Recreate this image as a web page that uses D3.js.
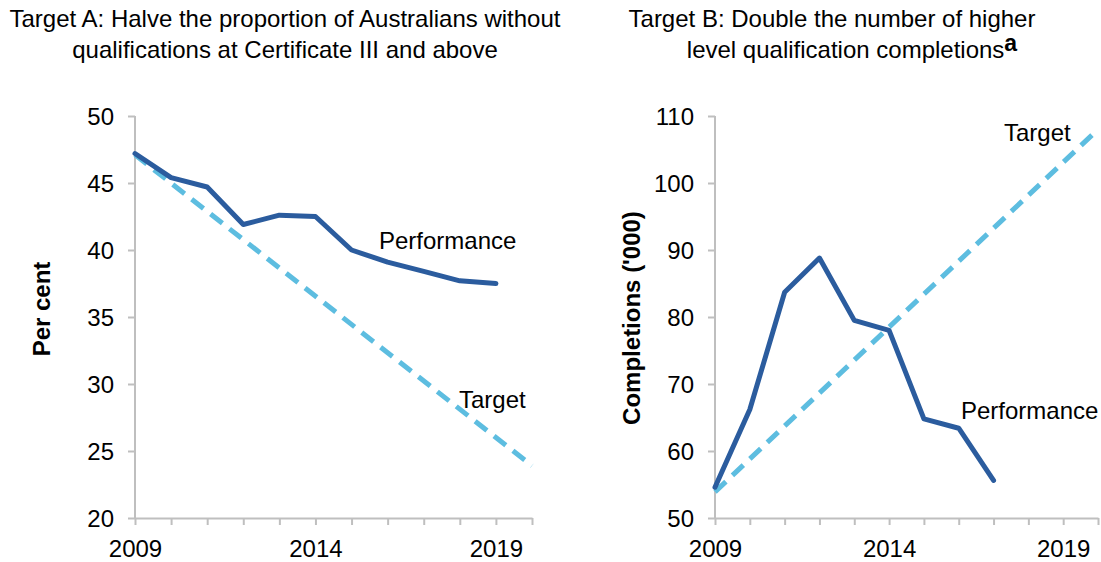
<!DOCTYPE html>
<html>
<head>
<meta charset="utf-8">
<script src="https://cdn.jsdelivr.net/npm/d3@7"></script>
<style>
  html, body { margin: 0; padding: 0; background: #fff; }
  svg { display: block; font-family: "Liberation Sans", Arial, sans-serif; }
  .axis path, .axis line { stroke: #bfbfbf; stroke-width: 2; }
  .axis text { font-size: 24px; fill: #000; }
</style>
</head>
<body>
<svg id="chart" width="1101" height="562"></svg>
<script>
// ---- Data ----
const yearsA = [2009, 2010, 2011, 2012, 2013, 2014, 2015, 2016, 2017, 2018, 2019];
const performanceA = [47.2, 45.4, 44.7, 41.9, 42.6, 42.5, 40.0, 39.1, 38.4, 37.7, 37.5];
const targetYearsA = [2009, 2020];
const targetA = [47.1, 23.9];

const yearsB = [2009, 2010, 2011, 2012, 2013, 2014, 2015, 2016, 2017];
const performanceB = [54.6, 66.2, 83.7, 88.8, 79.5, 78.0, 64.8, 63.4, 55.6];
const targetYearsB = [2009, 2020];
const targetB = [53.9, 108.0];

const xTickYears = [2009, 2010, 2011, 2012, 2013, 2014, 2015, 2016, 2017, 2018, 2019, 2020];
const xLabelYears = [2009, 2014, 2019];
const yTicksA = [20, 25, 30, 35, 40, 45, 50];
const yTicksB = [50, 60, 70, 80, 90, 100, 110];

const titleA = ["Target A: Halve the proportion of Australians without", "qualifications at Certificate III and above"];
const titleB = ["Target B: Double the number of higher", "level qualification completions"];
const titleBSup = "a";
const yLabelA = "Per cent";
const yLabelB = "Completions ('000)";

const perfColor = "#2b5c9e";
const targColor = "#5dbde0";
const FS = 24;

const svg = d3.select("#chart");

function panel(opts) {
  const g = svg.append("g");
  const x = d3.scaleLinear().domain([2009, 2020]).range([opts.x0, opts.x1]);
  const y = d3.scaleLinear().domain(opts.yDomain).range([518, 116]);

  // y axis
  const ya = g.append("g").attr("class", "axis")
    .attr("transform", `translate(${opts.x0},0)`)
    .call(d3.axisLeft(y).tickValues(opts.yTicks).tickSize(7).tickPadding(14).tickSizeOuter(0));
  ya.select(".domain").attr("d", `M0,116V518`);
  ya.selectAll("text").attr("dy", "0.35em");

  // x axis
  const xa = g.append("g").attr("class", "axis")
    .attr("transform", `translate(0,518)`)
    .call(d3.axisBottom(x).tickValues(xTickYears).tickSize(7).tickSizeOuter(0)
      .tickFormat(d => xLabelYears.includes(d) ? String(d) : ""));
  xa.selectAll("text").attr("y", 0).attr("dy", "39px");

  // target line
  const line = d3.line().x(d => x(d[0])).y(d => y(d[1]));
  g.append("path")
    .datum(opts.tYears.map((d, i) => [d, opts.tVals[i]]))
    .attr("d", line)
    .attr("fill", "none")
    .attr("stroke", targColor)
    .attr("stroke-width", 5)
    .attr("stroke-dasharray", "15,9");

  // performance line
  g.append("path")
    .datum(opts.pYears.map((d, i) => [d, opts.pVals[i]]))
    .attr("d", line)
    .attr("fill", "none")
    .attr("stroke", perfColor)
    .attr("stroke-width", 5)
    .attr("stroke-linejoin", "round")
    .attr("stroke-linecap", "round");

  // labels
  g.append("text").attr("x", opts.perfLabel[0]).attr("y", opts.perfLabel[1])
    .attr("font-size", FS).attr("fill", "#000").text("Performance");
  g.append("text").attr("x", opts.targLabel[0]).attr("y", opts.targLabel[1])
    .attr("font-size", FS).attr("fill", "#000").text("Target");

  // y title
  g.append("text")
    .attr("transform", `translate(${opts.yLabelX},${opts.yLabelY}) rotate(-90)`)
    .attr("text-anchor", "middle")
    .attr("font-size", FS).attr("font-weight", "bold").attr("fill", "#000")
    .text(opts.yLabel);

  // chart title
  const t = g.append("text").attr("text-anchor", "middle").attr("font-size", FS).attr("fill", "#000");
  t.append("tspan").attr("x", opts.titleX[0]).attr("y", 27).text(opts.title[0]);
  t.append("tspan").attr("x", opts.titleX[1]).attr("y", 58).text(opts.title[1]);
  if (opts.sup) {
    t.append("tspan").attr("dy", -7).attr("font-weight", "bold").attr("font-size", 23).text(opts.sup);
  }
}

panel({
  x0: 135, x1: 532, yDomain: [20, 50], yTicks: yTicksA,
  pYears: yearsA, pVals: performanceA, tYears: targetYearsA, tVals: targetA,
  perfLabel: [379, 249], targLabel: [459, 408],
  yLabel: yLabelA, yLabelX: 50, yLabelY: 309,
  title: titleA, titleX: [285, 285]
});

panel({
  x0: 715, x1: 1098, yDomain: [50, 110], yTicks: yTicksB,
  pYears: yearsB, pVals: performanceB, tYears: targetYearsB, tVals: targetB,
  perfLabel: [961, 419], targLabel: [1004, 141],
  yLabel: yLabelB, yLabelX: 640, yLabelY: 318,
  title: titleB, titleX: [832, 852], sup: titleBSup
});
</script>
</body>
</html>
